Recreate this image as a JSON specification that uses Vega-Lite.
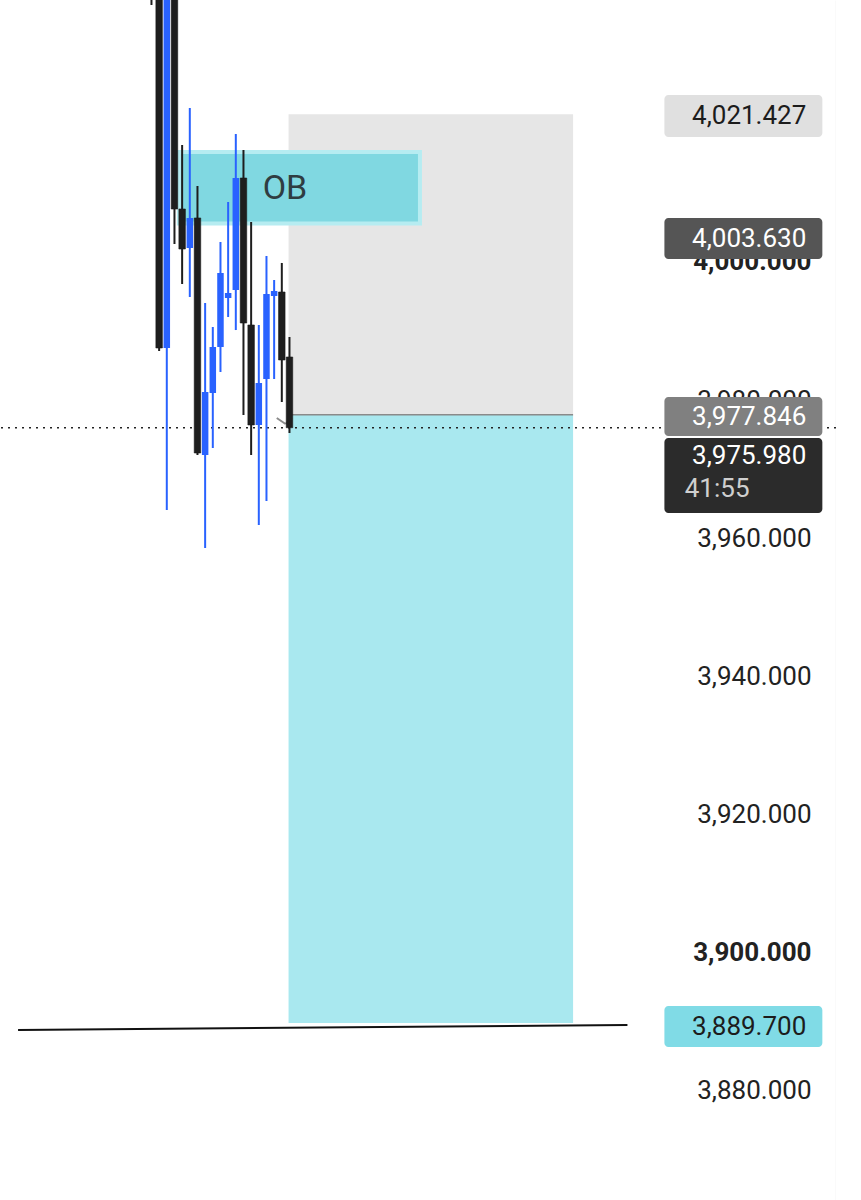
{
  "$schema": "https://vega.github.io/schema/vega-lite/v6.json",
  "width": 836,
  "height": 1200,
  "autosize": {"type": "none"},
  "padding": 0,
  "background": "white",
  "config": {"view": {"stroke": null}, "font": "Roboto"},
  "datasets": {
    "candles": [
      {"i": -1, "open": 4055, "high": 4062, "low": 4037.25, "close": 4045, "side": "down"},
      {"i": 0, "open": 4050, "high": 4060, "low": 3987.1, "close": 3987.54, "side": "down"},
      {"i": 1, "open": 3987.54, "high": 4058, "low": 3964.06, "close": 4050, "side": "up"},
      {"i": 2, "open": 4048, "high": 4055, "low": 4002.61, "close": 4007.68, "side": "down"},
      {"i": 3, "open": 4007.68, "high": 4016.96, "low": 3996.81, "close": 4001.88, "side": "down"},
      {"i": 4, "open": 4002.03, "high": 4022.32, "low": 3994.93, "close": 4006.38, "side": "up"},
      {"i": 5, "open": 4006.38, "high": 4011.01, "low": 3972.03, "close": 3972.32, "side": "down"},
      {"i": 6, "open": 3972.03, "high": 3994.06, "low": 3958.55, "close": 3981.16, "side": "up"},
      {"i": 7, "open": 3981.01, "high": 3990.58, "low": 3973.04, "close": 3987.68, "side": "up"},
      {"i": 8, "open": 3987.68, "high": 4002.9, "low": 3984.06, "close": 3998.41, "side": "up"},
      {"i": 9, "open": 3994.78, "high": 4008.7, "low": 3992.03, "close": 3995.51, "side": "up"},
      {"i": 10, "open": 3995.94, "high": 4018.55, "low": 3990.14, "close": 4012.17, "side": "up"},
      {"i": 11, "open": 4012.17, "high": 4016.23, "low": 3977.83, "close": 3991.16, "side": "down"},
      {"i": 12, "open": 3990.87, "high": 4005.8, "low": 3972.03, "close": 3976.38, "side": "down"},
      {"i": 13, "open": 3976.38, "high": 3990.87, "low": 3961.88, "close": 3982.46, "side": "up"},
      {"i": 14, "open": 3983.04, "high": 4000.87, "low": 3965.36, "close": 3995.36, "side": "up"},
      {"i": 15, "open": 3995.07, "high": 3997.39, "low": 3983.04, "close": 3995.8, "side": "up"},
      {"i": 16, "open": 3995.65, "high": 3999.86, "low": 3979.71, "close": 3985.8, "side": "down"},
      {"i": 17, "open": 3986.23, "high": 3989.13, "low": 3975.22, "close": 3975.98, "side": "down"}
    ],
    "tags": [
      {"label": "4,021.427", "kind": "target", "top": 4024.2, "bot": 4018.1, "a": 65.9, "b": 86.5},
      {"label": "4,003.630", "kind": "level", "top": 4006.38, "bot": 4000.43, "a": 65.9, "b": 86.5},
      {"label": "3,977.846", "kind": "entry", "top": 3980.43, "bot": 3974.78, "a": 65.9, "b": 86.5},
      {"label": "3,975.980", "kind": "last", "top": 3974.49, "bot": 3963.62, "a": 65.9, "b": 86.5},
      {"label": "3,889.700", "kind": "stop", "top": 3892.17, "bot": 3886.23, "a": 65.9, "b": 86.5}
    ],
    "tagtext": [
      {"label": "4,021.427", "ty": 4021.1, "ink": "dark", "xr": 84.41},
      {"label": "4,003.630", "ty": 4003.4, "ink": "light", "xr": 84.41},
      {"label": "3,977.846", "ty": 3977.6, "ink": "light", "xr": 84.41},
      {"label": "3,975.980", "ty": 3971.88, "ink": "light", "xr": 84.41},
      {"label": "41:55", "ty": 3967.1, "ink": "muted", "xr": 77.0},
      {"label": "3,889.700", "ty": 3889.2, "ink": "dark", "xr": 84.41}
    ]
  },
  "layer": [
    {
      "data": {"values": [{"a": 16.88, "b": 53.99, "top": 4021.427, "bot": 3977.846}]},
      "mark": {"type": "rect", "color": "#e6e6e6"},
      "encoding": {
        "x": {"field": "a", "type": "quantitative", "scale": {"domain": [-20.103, 87.629], "nice": false, "zero": false}, "axis": null},
        "x2": {"field": "b"},
        "y": {"field": "top", "type": "quantitative", "scale": {"domain": [3864.058, 4037.971], "nice": false, "zero": false},
          "axis": {
            "orient": "right",
            "values": [3880, 3900, 3920, 3940, 3960, 3980, 4000, 4020],
            "format": ",.3f",
            "title": null,
            "ticks": false,
            "grid": false,
            "domain": true,
            "domainColor": "#e9e9e9",
            "domainWidth": 1.5,
            "labelAlign": "right",
            "labelBaseline": "middle",
            "labelPadding": -25,
            "labelFont": "Roboto",
            "labelFontSize": 26,
            "labelColor": "#222222",
            "labelOverlap": false,
            "labelFlush": false,
            "labelBound": false,
            "labelFontWeight": {"condition": {"test": "datum.value == 4000 || datum.value == 3900", "value": "bold"}, "value": "normal"}
          }
        },
        "y2": {"field": "bot"}
      }
    },
    {
      "data": {"values": [{"a": 16.88, "b": 53.99, "top": 3977.846, "bot": 3889.7}]},
      "mark": {"type": "rect", "color": "#a9e8ef"},
      "encoding": {
        "x": {"field": "a", "type": "quantitative"},
        "x2": {"field": "b"},
        "y": {"field": "top", "type": "quantitative"},
        "y2": {"field": "bot"}
      }
    },
    {
      "data": {"values": [{"a": 16.88, "b": 53.99, "p": 3977.846}]},
      "mark": {"type": "rule", "color": "#8a8a8a", "strokeWidth": 1.5},
      "encoding": {
        "x": {"field": "a", "type": "quantitative"},
        "x2": {"field": "b"},
        "y": {"field": "p", "type": "quantitative"}
      }
    },
    {
      "data": {"values": [{"a": 2.58, "b": 34.02, "top": 4015.94, "bot": 4005.58}]},
      "mark": {"type": "rect", "fill": "#80d8e1", "stroke": "#b6ecf1", "strokeWidth": 4},
      "encoding": {
        "x": {"field": "a", "type": "quantitative"},
        "x2": {"field": "b"},
        "y": {"field": "top", "type": "quantitative"},
        "y2": {"field": "bot"}
      }
    },
    {
      "data": {"values": [{"a": 13.5, "p": 4010.6, "t": "OB"}]},
      "mark": {"type": "text", "align": "left", "baseline": "middle", "font": "Roboto", "fontSize": 34, "color": "#2f3d42"},
      "encoding": {
        "x": {"field": "a", "type": "quantitative"},
        "y": {"field": "p", "type": "quantitative"},
        "text": {"field": "t"}
      }
    },
    {
      "data": {"values": [{"p": 3975.98}]},
      "mark": {"type": "rule", "color": "#222222", "strokeWidth": 1.6, "strokeDash": [2, 5]},
      "encoding": {
        "y": {"field": "p", "type": "quantitative"}
      }
    },
    {
      "data": {"values": [{"a": 15.34, "b": 16.49, "pa": 3977.39, "pb": 3976.52}, {"a": 16.49, "b": 17.3, "pa": 3976.52, "pb": 3977.4}]},
      "mark": {"type": "rule", "color": "#8c8c8c", "strokeWidth": 2},
      "encoding": {
        "x": {"field": "a", "type": "quantitative"},
        "x2": {"field": "b"},
        "y": {"field": "pa", "type": "quantitative"},
        "y2": {"field": "pb"}
      }
    },
    {
      "data": {"name": "candles"},
      "mark": {"type": "rule", "strokeWidth": 2, "clip": true},
      "encoding": {
        "x": {"field": "i", "type": "quantitative"},
        "y": {"field": "low", "type": "quantitative"},
        "y2": {"field": "high"},
        "color": {"field": "side", "type": "nominal", "scale": {"domain": ["down", "up"], "range": ["#1e1e1e", "#2962ff"]}, "legend": null}
      }
    },
    {
      "data": {"name": "candles"},
      "mark": {"type": "bar", "size": 6.5, "clip": true, "stroke": "#1a1a1a", "strokeWidth": 0.6},
      "encoding": {
        "x": {"field": "i", "type": "quantitative"},
        "y": {"field": "open", "type": "quantitative"},
        "y2": {"field": "close"},
        "color": {"field": "side", "type": "nominal", "legend": null},
        "strokeOpacity": {"condition": {"test": "datum.side == 'up'", "value": 0}, "value": 1}
      }
    },
    {
      "data": {"values": [{"a": -18.4, "b": 61.08, "pa": 3888.7, "pb": 3889.42}]},
      "mark": {"type": "rule", "color": "#111111", "strokeWidth": 2},
      "encoding": {
        "x": {"field": "a", "type": "quantitative"},
        "x2": {"field": "b"},
        "y": {"field": "pa", "type": "quantitative"},
        "y2": {"field": "pb"}
      }
    },
    {
      "data": {"name": "tags"},
      "mark": {"type": "rect", "cornerRadius": 4},
      "encoding": {
        "x": {"field": "a", "type": "quantitative"},
        "x2": {"field": "b"},
        "y": {"field": "top", "type": "quantitative"},
        "y2": {"field": "bot"},
        "fill": {"field": "kind", "type": "nominal", "scale": {"domain": ["target", "level", "entry", "last", "stop"], "range": ["#e0e0e0", "#555555", "#808080", "#2b2b2b", "#80dbe6"]}, "legend": null}
      }
    },
    {
      "data": {"name": "tagtext"},
      "mark": {"type": "text", "align": "right", "baseline": "middle", "font": "Roboto", "fontSize": 26},
      "encoding": {
        "x": {"field": "xr", "type": "quantitative"},
        "y": {"field": "ty", "type": "quantitative"},
        "text": {"field": "label"},
        "fill": {"field": "ink", "type": "nominal", "scale": {"domain": ["dark", "light", "muted"], "range": ["#1c1c1c", "#ffffff", "#cfcfcf"]}, "legend": null}
      }
    }
  ],
  "resolve": {"scale": {"fill": "independent"}}
}
